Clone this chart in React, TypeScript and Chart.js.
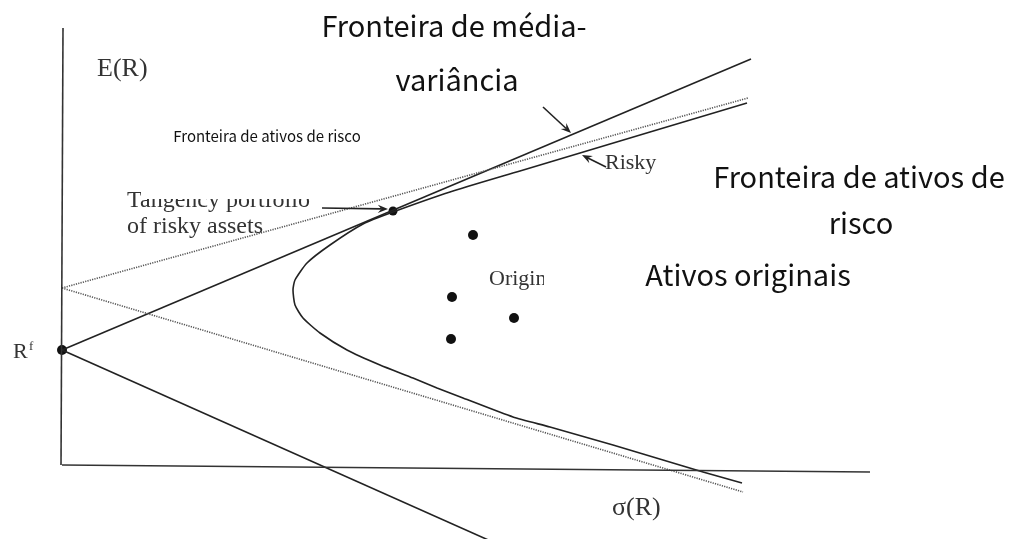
import React, { useEffect, useRef } from "react";
import { Chart, registerables } from "chart.js";

Chart.register(...registerables);

// σ(R) and E(R) in arbitrary units
const cmlUpper = [
  { x: 0, y: 1.15 },
  { x: 6.89, y: 4.06 },
];
const cmlLower = [
  { x: 0, y: 1.15 },
  { x: 4.6, y: -0.9 },
];
const dottedUpper = [
  { x: 0, y: 1.77 },
  { x: 6.86, y: 3.67 },
];
const dottedLower = [
  { x: 0, y: 1.77 },
  { x: 6.81, y: -0.27 },
];
const xAxisLine = [
  { x: 0, y: 0 },
  { x: 8.08, y: -0.07 },
];
const yAxisLine = [
  { x: -0.01, y: 0 },
  { x: 0.01, y: 4.37 },
];
const frontierSigma = [
  6.85, 5.88, 5.18, 4.58, 3.88, 3.31, 3.01, 2.68, 2.45, 2.33, 2.31, 2.33, 2.41,
  2.58, 2.85, 3.18, 3.51, 3.75, 4.01, 4.51, 4.88, 5.51, 6.01, 6.41, 6.8,
];
const frontierReturn = [
  3.62, 3.33, 3.12, 2.94, 2.73, 2.53, 2.41, 2.2, 2.02, 1.85, 1.75, 1.6, 1.47,
  1.32, 1.15, 1.0, 0.87, 0.77, 0.67, 0.48, 0.38, 0.2, 0.05, -0.07, -0.18,
];
const assetSigma = [4.11, 3.9, 4.52, 3.89];
const assetReturn = [2.3, 1.68, 1.47, 1.26];
const tangency = [{ x: 3.31, y: 2.54 }];
const riskFree = [{ x: 0, y: 1.15 }];

const frontier = frontierSigma.map((s, i) => ({ x: s, y: frontierReturn[i] }));
const assets = assetSigma.map((s, i) => ({ x: s, y: assetReturn[i] }));

const SERIF = '"Liberation Serif", "DejaVu Serif", serif';
const JP = '"Noto Sans CJK JP", "Noto Sans", sans-serif';

function arrow(ctx: CanvasRenderingContext2D, x1: number, y1: number, x2: number, y2: number, head = 9) {
  const a = Math.atan2(y2 - y1, x2 - x1);
  ctx.save();
  ctx.strokeStyle = "#222";
  ctx.fillStyle = "#222";
  ctx.lineWidth = 1.6;
  ctx.beginPath();
  ctx.moveTo(x1, y1);
  ctx.lineTo(x2 - Math.cos(a) * head * 0.6, y2 - Math.sin(a) * head * 0.6);
  ctx.stroke();
  ctx.beginPath();
  ctx.moveTo(x2, y2);
  ctx.lineTo(x2 - head * Math.cos(a - 0.38), y2 - head * Math.sin(a - 0.38));
  ctx.lineTo(x2 - head * 0.6 * Math.cos(a), y2 - head * 0.6 * Math.sin(a));
  ctx.lineTo(x2 - head * Math.cos(a + 0.38), y2 - head * Math.sin(a + 0.38));
  ctx.closePath();
  ctx.fill();
  ctx.restore();
}

const annotations = {
  id: "annotations",
  beforeDraw(chart: any) {
    const ctx = chart.ctx;
    ctx.save();
    ctx.fillStyle = "#fff";
    ctx.fillRect(0, 0, chart.width, chart.height);
    ctx.restore();
  },
  afterDatasetsDraw(chart: any) {
    const ctx: CanvasRenderingContext2D = chart.ctx;
    ctx.save();
    ctx.textBaseline = "alphabetic";
    ctx.textAlign = "left";
    // scanned serif labels
    ctx.fillStyle = "#333";
    ctx.font = `26px ${SERIF}`;
    ctx.fillText("E(R)", 97, 76);
    ctx.fillText("σ(R)", 612, 515);
    ctx.font = `22px ${SERIF}`;
    ctx.fillText("R", 13, 358);
    ctx.font = `13px ${SERIF}`;
    ctx.fillText("f", 29, 350);
    ctx.font = `24px ${SERIF}`;
    ctx.fillText("Tangency portfolio", 127, 207);
    ctx.fillText("of risky assets", 127, 233);
    ctx.font = `22px ${SERIF}`;
    ctx.fillText("Risky", 605, 169);
    ctx.save();
    ctx.beginPath();
    ctx.rect(480, 250, 64, 50);
    ctx.clip();
    ctx.fillText("Origins", 489, 285);
    ctx.restore();
    // cut-off top of the scanned text
    ctx.fillStyle = "#fff";
    ctx.fillRect(141, 180, 180, 19);

    arrow(ctx, 322, 208, 388, 209, 11);
    arrow(ctx, 543, 107, 571, 133, 11);
    arrow(ctx, 606, 167, 582, 155, 11);

    // overlaid Portuguese labels
    ctx.fillStyle = "#111";
    ctx.font = `29px ${JP}`;
    ctx.textAlign = "center";
    ctx.textBaseline = "alphabetic";
    ctx.fillText("Fronteira de média-", 454, 37);
    ctx.fillText("variância", 457, 91);
    ctx.fillText("Fronteira de ativos de", 859, 188);
    ctx.fillText("risco", 861, 234);
    ctx.fillText("Ativos originais", 748, 286);
    ctx.font = `15px ${JP}`;
    ctx.fillText("Fronteira de ativos de risco", 267, 142);
    ctx.restore();
  },
};

export default function App() {
  const ref = useRef<HTMLCanvasElement | null>(null);
  useEffect(() => {
    if (!ref.current) return;
    const solid = { borderColor: "#222", borderWidth: 1.6, pointRadius: 0, showLine: true, fill: false };
    const dotted = { borderColor: "#555", borderWidth: 1.6, borderDash: [1.2, 1.2], pointRadius: 0, showLine: true, fill: false };
    const chart = new Chart(ref.current, {
      type: "scatter",
      data: {
        datasets: [
          { label: "x axis", data: xAxisLine, ...solid, borderColor: "#333" },
          { label: "y axis", data: yAxisLine, ...solid, borderColor: "#333" },
          { label: "upper dotted", data: dottedUpper, ...dotted },
          { label: "lower dotted", data: dottedLower, ...dotted },
          { label: "CML", data: cmlUpper, ...solid },
          { label: "CML lower", data: cmlLower, ...solid },
          { label: "frontier", data: frontier, ...solid, tension: 0.2 },
          { label: "assets", data: assets, showLine: false, pointRadius: 5, backgroundColor: "#111", borderColor: "#111", borderWidth: 0 },
          { label: "tangency", data: tangency, showLine: false, pointRadius: 4.5, backgroundColor: "#111", borderColor: "#111", borderWidth: 0 },
          { label: "Rf", data: riskFree, showLine: false, pointRadius: 5, backgroundColor: "#111", borderColor: "#111", borderWidth: 0 },
        ] as any,
      },
      options: {
        animation: false,
        responsive: false,
        layout: { padding: 0, autoPadding: false },
        plugins: { legend: { display: false }, tooltip: { enabled: false } },
        scales: {
          x: { type: "linear", display: false, min: -0.62, max: 9.58 },
          y: { type: "linear", display: false, min: -0.74, max: 4.65 },
        },
      },
      plugins: [annotations],
    });
    return () => chart.destroy();
  }, []);
  return (
    <div style={{ position: "fixed", left: 0, top: 0, width: 1020, height: 539, background: "#fff" }}>
      <canvas ref={ref} width={1020} height={539} />
    </div>
  );
}
